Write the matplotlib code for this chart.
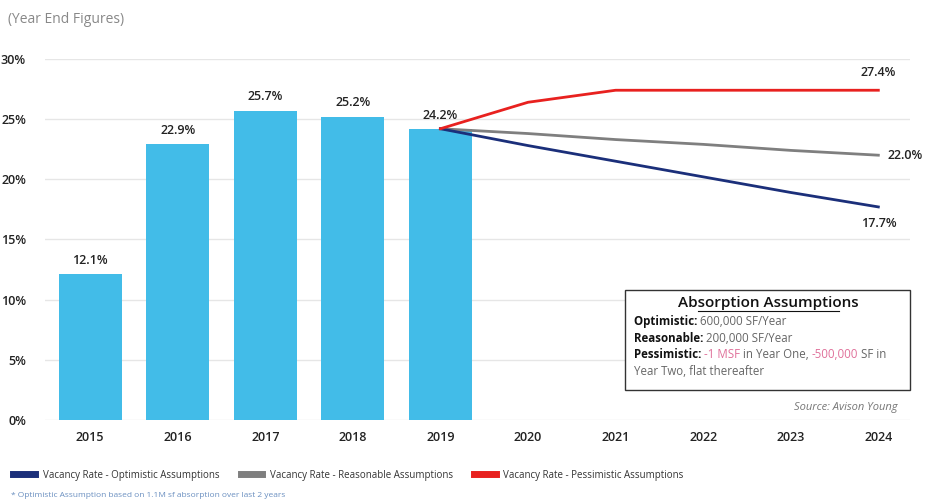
import matplotlib.pyplot as plt

years = ["2015", "2016", "2017", "2018", "2019", "2020", "2021", "2022", "2023", "2024"]
bar_years = ["2015", "2016", "2017", "2018", "2019"]
vacancy = [12.1, 22.9, 25.7, 25.2, 24.2]

proj_years = ["2019", "2020", "2021", "2022", "2023", "2024"]
optimistic = [24.2, 22.8, 21.5, 20.2, 18.9, 17.7]
reasonable = [24.2, 23.8, 23.3, 22.9, 22.4, 22.0]
pessimistic = [24.2, 26.4, 27.4, 27.4, 27.4, 27.4]

BAR = "#42bce8"
NAVY = "#1b2f7a"
GREY = "#7f7f7f"
RED = "#e8211f"
TXT = "#222222"

plt.rcParams["font.family"] = ["Open Sans", "DejaVu Sans"]

fig = plt.figure(figsize=(9.27, 5.04), dpi=100)
ax = fig.add_axes([0.049, 0.167, 0.933, 0.716])

xi = {y: i for i, y in enumerate(years)}
bx = [xi[y] for y in bar_years]
px = [xi[y] for y in proj_years]

ax.bar(bx, vacancy, width=0.72, color=BAR, zorder=2)
for x, v in zip(bx, vacancy):
    ax.text(x, v + 0.6, f"{v:.1f}%", ha="center", va="bottom", fontsize=9,
            color=TXT, fontweight="semibold")

ax.plot(px, reasonable, color=GREY, lw=2, zorder=3)
ax.plot(px, optimistic, color=NAVY, lw=2, zorder=3)
ax.plot(px, pessimistic, color=RED, lw=2, zorder=3)

ax.text(px[-1], pessimistic[-1] + 0.9, f"{pessimistic[-1]:.1f}%", ha="center", va="bottom",
        fontsize=9, color=TXT, fontweight="semibold")
ax.text(px[-1] + 0.1, reasonable[-1], f"{reasonable[-1]:.1f}%", ha="left", va="center",
        fontsize=9, color=TXT, fontweight="semibold", clip_on=False)
ax.text(px[-1], optimistic[-1] - 0.8, f"{optimistic[-1]:.1f}%", ha="center", va="top",
        fontsize=9, color=TXT, fontweight="semibold")

ax.set_xlim(-0.51, 9.365)
ax.set_ylim(0, 30)
ax.set_xticks(range(len(years)))
ax.set_xticklabels(years)
ax.set_yticks(range(0, 31, 5))
ax.set_yticklabels([f"{t}%" for t in range(0, 31, 5)])
ax.tick_params(length=0, labelsize=9, colors=TXT, pad=8)
for lab in ax.get_xticklabels() + ax.get_yticklabels():
    lab.set_fontweight("semibold")
ax.yaxis.set_tick_params(pad=14)
ax.grid(axis="y", color="#e6e6e6", lw=1, zorder=0)
for s in ax.spines.values():
    s.set_visible(False)

# assumptions box
ax.add_patch(plt.Rectangle((0.67, 0.083), 0.33, 0.277, transform=ax.transAxes,
                           facecolor="white", edgecolor="#333333", lw=1, zorder=4,
                           clip_on=False))
ax.text(0.836, 0.325, "Absorption Assumptions", transform=ax.transAxes, ha="center",
        va="center", fontsize=11, color="#111111", fontweight="semibold", zorder=5)
ax.plot([0.754, 0.918], [0.302, 0.302], transform=ax.transAxes, color="#111111", lw=0.8,
        zorder=5)
lines = [
    [("Optimistic: ", "#111111", "bold"), ("600,000 SF/Year", "#666666", "normal")],
    [("Reasonable: ", "#111111", "bold"), ("200,000 SF/Year", "#666666", "normal")],
    [("Pessimistic: ", "#111111", "bold"), ("-1 MSF", "#e0709a", "normal"),
     (" in Year One, ", "#666666", "normal"), ("-500,000", "#e0709a", "normal"),
     (" SF in", "#666666", "normal")],
    [("Year Two, flat thereafter", "#666666", "normal")],
]
fig.canvas.draw()
rend = fig.canvas.get_renderer()
y0 = 0.272
for row in lines:
    x0 = 0.68
    for txt, col, wt in row:
        t = ax.text(x0, y0, txt, transform=ax.transAxes, ha="left", va="center",
                    fontsize=8.3, color=col, fontweight=wt, zorder=5)
        bb = t.get_window_extent(renderer=rend)
        x0 += bb.width / ax.bbox.width
    y0 -= 0.046

ax.text(0.985, 0.035, "Source: Avison Young", transform=ax.transAxes, ha="right",
        va="center", fontsize=8, color="#777777", style="italic")

fig.text(0.009, 0.962, "(Year End Figures)", fontsize=10, color="#888888", va="center")

# legend
handles = [plt.Line2D([], [], color=c, lw=5) for c in (NAVY, GREY, RED)]
labels = ["Vacancy Rate - Optimistic Assumptions", "Vacancy Rate - Reasonable Assumptions",
          "Vacancy Rate - Pessimistic Assumptions"]
fig.legend(handles, labels, loc="center left", bbox_to_anchor=(0.005, 0.057), ncol=3,
           frameon=False, fontsize=7, handlelength=2.2, columnspacing=2.2,
           labelcolor="#333333")
fig.text(0.012, 0.017, "* Optimistic Assumption based on 1.1M sf absorption over last 2 years",
         fontsize=6, color="#6a8fc0", va="center")

fig.savefig("out.png", dpi=100)
